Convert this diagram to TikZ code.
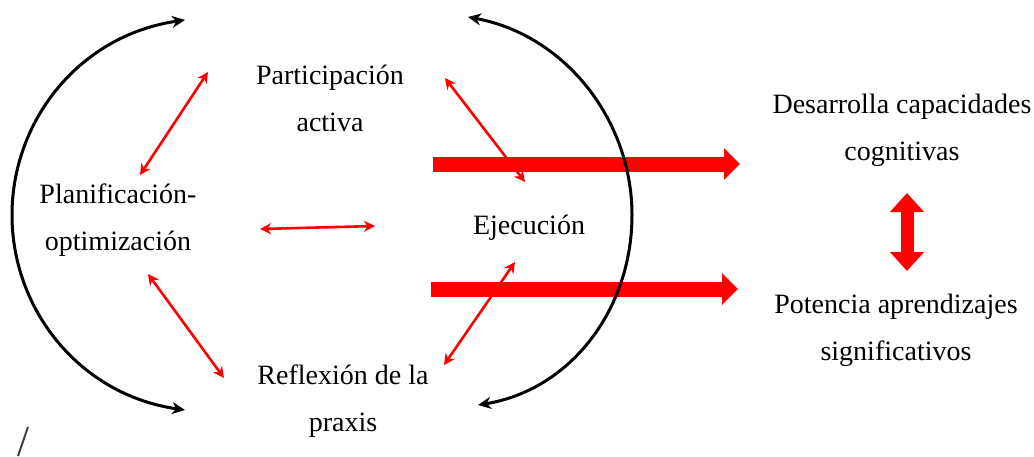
\documentclass[tikz,border=0pt]{standalone}
\usepackage{fontspec}
\setmainfont{Liberation Serif}
\usepackage{tikz}
\usetikzlibrary{arrows.meta}

\begin{document}
\begin{tikzpicture}[x=1pt,y=-1pt,
  txt/.style={align=center, font=\fontsize{28}{47}\selectfont, inner sep=0pt},
  cyc/.style={<->, >={Stealth[length=13pt,width=12pt]}, line width=3pt, black},
  rel/.style={<->, >={Stealth[length=11pt,width=11pt]}, line width=2.6pt, red},
  big/.style={-{Triangle[length=16pt,width=31pt]}, line width=15pt, red}]

\useasboundingbox (0,0) rectangle (1034,456);

\node[txt] (plan) at (118,220) {Planificación-\\optimización};
\node[txt] (part) at (330,98)  {Participación\\activa};
\node[txt] (ejec) at (529,228) {Ejecución};
\node[txt] (refl) at (343,401) {Reflexión de la\\praxis};
\node[txt] (desa) at (902,130) {Desarrolla capacidades\\cognitivas};
\node[txt] (pote) at (896,330) {Potencia aprendizajes\\significativos};

% ends of the arrows
\coordinate (ltop) at (185,20);
\coordinate (lbot) at (185,410);
\coordinate (rtop) at (468,17);
\coordinate (rbot) at (478,405);
\coordinate (a1) at (140,175); \coordinate (b1) at (208,72);
\coordinate (a2) at (260,229); \coordinate (b2) at (375,226);
\coordinate (a3) at (148,274); \coordinate (b3) at (224,378);
\coordinate (a4) at (445,78);  \coordinate (b4) at (525,182);
\coordinate (a5) at (444,365); \coordinate (b5) at (515,262);
\coordinate (s1) at (433,164); \coordinate (e1) at (740,164);
\coordinate (s2) at (431,289); \coordinate (e2) at (738,289);
\coordinate (u)  at (907,193); \coordinate (d)  at (907,271);

\path[rel]
	(a1) edge (b1)
	(a2) edge (b2)
	(a3) edge (b3)
	(a4) edge (b4)
	(a5) edge (b5)
	;

\draw[big] (s1) -- (e1);
\draw[big] (s2) -- (e2);
\draw[red, line width=13pt, {Triangle[length=19pt,width=33pt]}-{Triangle[length=19pt,width=33pt]}] (u) -- (d);

\draw[cyc] (ltop) .. controls (80,35) and (12,120) .. (12,215) .. controls (12,310) and (80,395) .. (lbot);
\draw[cyc] (rtop) .. controls (565,35) and (632,120) .. (632,215) .. controls (632,310) and (570,390) .. (rbot);

\draw[black!75, line width=2pt] (28,427) -- (18,456);

\end{tikzpicture}
\end{document}
